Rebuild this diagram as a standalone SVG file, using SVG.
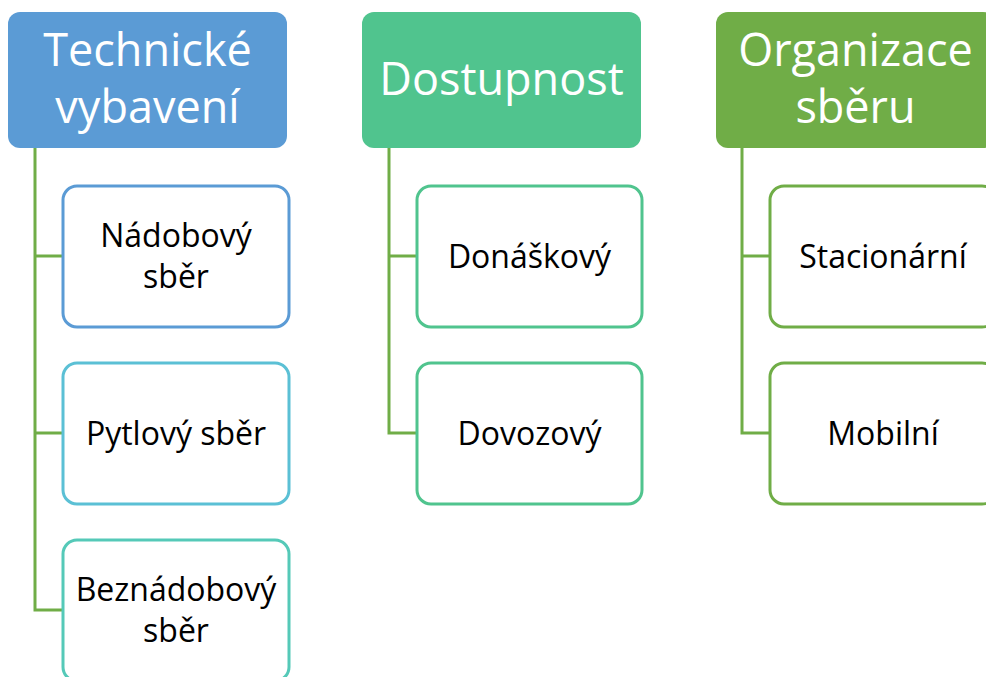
<svg xmlns="http://www.w3.org/2000/svg" width="986" height="677" viewBox="0 0 986 677">
<style>
.hdr text{font-family:"Open Sans","Liberation Sans",sans-serif;font-size:45px;fill:#fff;text-anchor:middle}
.ch rect{fill:#fff;stroke-width:3}
.ch text{font-family:"Open Sans","Liberation Sans",sans-serif;font-size:32px;fill:#000;text-anchor:middle}
.conn path{fill:none;stroke:#70AD47;stroke-width:3}
</style>
<rect width="986" height="677" fill="#fff"/>
<g class="conn" id="connectors">
<path d="M35 148V610H63M35 256H63M35 433H63"/>
<path d="M389 148V433H417M389 256H417"/>
<path d="M742 148V433H770M742 256H770"/>
</g>
<g class="hdr" id="h1"><rect x="8" y="12" width="279" height="136" rx="12" fill="#5B9BD5"/><text x="147.5" y="66">Technické</text><text x="147.5" y="123">vybavení</text></g>
<g class="hdr" id="h2"><rect x="362" y="12" width="279" height="136" rx="12" fill="#50C48E"/><text x="501.5" y="95">Dostupnost</text></g>
<g class="hdr" id="h3"><rect x="716" y="12" width="279" height="136" rx="12" fill="#70AD47"/><text x="855.5" y="66">Organizace</text><text x="855.5" y="123">sběru</text></g>
<g class="ch" id="c1"><rect x="63" y="186" width="226" height="141" rx="14" stroke="#5B9BD5"/><text x="176" y="247">Nádobový</text><text x="176" y="288">sběr</text></g>
<g class="ch" id="c2"><rect x="63" y="363" width="226" height="141" rx="14" stroke="#5BC0D5"/><text x="176" y="445">Pytlový sběr</text></g>
<g class="ch" id="c3"><rect x="63" y="540" width="226" height="141" rx="14" stroke="#55C9B8"/><text x="176" y="601">Beznádobový</text><text x="176" y="642">sběr</text></g>
<g class="ch" id="c4"><rect x="417" y="186" width="225" height="141" rx="14" stroke="#50C48E"/><text x="529.5" y="268">Donáškový</text></g>
<g class="ch" id="c5"><rect x="417" y="363" width="225" height="141" rx="14" stroke="#50C48E"/><text x="529.5" y="445">Dovozový</text></g>
<g class="ch" id="c6"><rect x="770" y="186" width="226" height="141" rx="14" stroke="#70AD47"/><text x="883" y="268">Stacionární</text></g>
<g class="ch" id="c7"><rect x="770" y="363" width="226" height="141" rx="14" stroke="#70AD47"/><text x="883" y="445">Mobilní</text></g>
</svg>
